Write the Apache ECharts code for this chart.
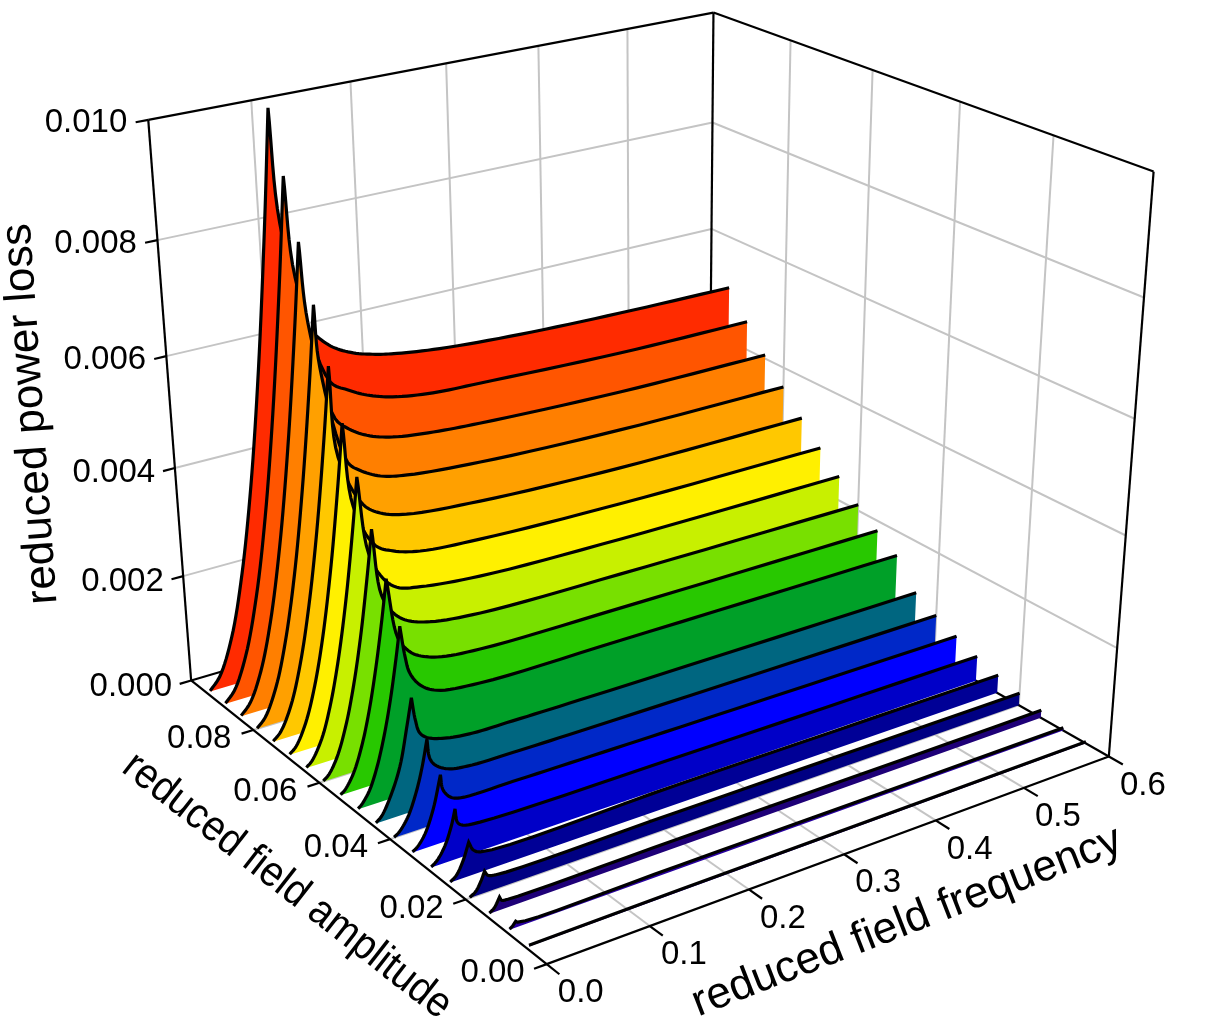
<!DOCTYPE html><html><head><meta charset="utf-8"><style>html,body{margin:0;background:#fff}#c{width:1224px;height:1023px}</style></head><body><div id="c"></div>
<script src="https://cdn.jsdelivr.net/npm/echarts@6/dist/echarts.min.js"></script>
<script>
// ---- data ----
const amplitudes=[0.095,0.09,0.085,0.08,0.075,0.07,0.065,0.06,0.055,0.05,0.045,0.04,0.035,0.03,0.025,0.02,0.015,0.01,0.005];
const ribbonColors=['#ff2b00','#ff5500','#ff7f00','#ffa000','#ffc800','#fff000','#c8f000','#78e000','#28c800','#00a028','#006680','#0028c8','#0000ff','#0000c8','#000096','#000082','#1e0078','#2800a0','#2800a0'];
const freq095=[.004,.015,.030,.045,.060,.075,.090,.100,.105,.128,.137,.152,.173,.196,.219,.265,.354,.469,.600];
const loss095=[.00001,.00023,.0009,.00203,.0036,.00563,.00811,.01001,.00806,.00615,.00595,.00571,.00552,.0054,.00532,.00522,.00512,.00506,.00503];
const freq090=[.004,.014,.028,.043,.057,.071,.085,.095,.101,.131,.148,.168,.195,.238,.289,.448,.600];
const loss090=[.00001,.0002,.00079,.00185,.00325,.00505,.00724,.00904,.00731,.00535,.00514,.00496,.00481,.0047,.00466,.00456,.00454];
const freq085=[.004,.014,.027,.040,.054,.068,.081,.090,.095,.117,.129,.149,.176,.219,.269,.427,.600];
const loss085=[.00001,.0002,.00073,.0016,.00292,.00463,.00657,.00811,.00671,.00495,.00472,.0045,.00435,.00425,.00419,.00409,.00407];
const freq080=[.004,.013,.026,.038,.051,.064,.077,.085,.088,.111,.123,.144,.172,.250,.406,.600];
const loss080=[.00001,.00017,.00068,.00145,.0026,.0041,.00593,.00723,.00615,.00438,.00418,.00398,.00387,.00375,.00365,.00363];
const freq075=[.004,.012,.024,.036,.048,.060,.072,.080,.085,.108,.125,.152,.230,.385,.600];
const loss075=[.00001,.00014,.00057,.00129,.0023,.00359,.00517,.00638,.00478,.00383,.0036,.00345,.00332,.00322,.00321];
const freq070=[.004,.011,.022,.033,.044,.056,.067,.074,.081,.101,.119,.147,.210,.364,.600];
const loss070=[.00001,.00012,.0005,.00112,.00198,.00321,.0046,.00561,.00412,.00334,.00315,.00301,.00292,.00284,.00282];
const freq065=[.004,.010,.021,.031,.041,.052,.062,.069,.077,.090,.104,.128,.190,.343,.600];
const loss065=[.00001,.0001,.00045,.00099,.00173,.00278,.00396,.0049,.00353,.00302,.00278,.00267,.00255,.00248,.00246];
const freq060=[.004,.010,.019,.029,.038,.048,.058,.064,.071,.082,.095,.119,.171,.322,.600];
const loss060=[.00001,.0001,.00037,.00087,.00149,.00237,.00347,.00422,.00302,.00265,.00245,.0023,.00219,.00214,.00211];
const freq055=[.004,.009,.018,.027,.035,.044,.053,.059,.068,.077,.086,.107,.151,.301,.600];
const loss055=[.00001,.00008,.00033,.00075,.00126,.002,.0029,.00359,.0025,.00224,.0021,.00195,.00186,.00183,.00181];
const freq050=[.004,.008,.016,.024,.032,.040,.048,.053,.057,.061,.071,.087,.131,.280,.600];
const loss050=[.00001,.00007,.00027,.00062,.0011,.00171,.00247,.00301,.00245,.00214,.00187,.00169,.00158,.00156,.00154];
const freq045=[.004,.010,.020,.030,.038,.044,.047,.051,.059,.078,.104,.145,.216,.600];
const loss045=[.00001,.0001,.00042,.00088,.00151,.00203,.00162,.00136,.00123,.00112,.00106,.00105,.00104,.00103];
const freq040=[.004,.009,.018,.027,.034,.040,.042,.047,.059,.079,.126,.195,.600];
const loss040=[.00001,.00007,.00028,.00066,.00108,.00156,.00121,.00106,.00092,.00085,.00083,.00082,.00081];
const freq035=[.004,.009,.017,.026,.034,.036,.043,.052,.106,.175,.282,.600];
const loss035=[.00001,.00007,.00026,.00066,.00121,.00093,.00076,.00069,.00067,.00066,.00065,.00063];
const freq030=[.004,.010,.018,.025,.029,.031,.036,.053,.260,.600];
const loss030=[.00001,.00009,.0003,.00062,.00089,.00064,.00056,.00051,.00048,.00047];
const freq025=[.004,.010,.017,.023,.027,.034,.238,.600];
const loss025=[.00001,.00009,.00031,.0006,.00044,.00036,.00035,.00034];
const freq020=[.004,.010,.015,.019,.022,.029,.217,.600];
const loss020=[.00001,.00008,.00022,.00038,.00029,.00025,.00024,.00023];
const freq015=[.004,.009,.014,.016,.022,.195,.600];
const loss015=[.00001,.00008,.00023,.00016,.00014,.00014,.00014];
const freq010=[.004,.007,.010,.012,.173,.600];
const loss010=[.00001,.00005,.00011,.00008,.00006,.00005];
const freq005=[.003,.152,.600];
const loss005=[.00002,.00003,.00003];
const ribbonFreqs=[freq095,freq090,freq085,freq080,freq075,freq070,freq065,freq060,freq055,freq050,freq045,freq040,freq035,freq030,freq025,freq020,freq015,freq010,freq005];
const ribbonLoss=[loss095,loss090,loss085,loss080,loss075,loss070,loss065,loss060,loss055,loss050,loss045,loss040,loss035,loss030,loss025,loss020,loss015,loss010,loss005];
const freqTicks=['0.0','0.1','0.2','0.3','0.4','0.5','0.6'];
const ampTicks=['0.00','0.02','0.04','0.06','0.08'];
const lossTicks=['0.000','0.002','0.004','0.006','0.008','0.010'];
const freqMax=0.6,ampMax=0.1,lossMax=0.01;

// ---- perspective camera: fitted least-squares from where the box corners sit ----
const cameraAnchors=[[0,0,0,547,966],[1,0,0,1110,755],[0,1,0,190,680],[1,1,0,708,530],[0,1,1,148,120],[1,1,1,714.5,12],[1,0,1,1153,172],[1,1,.8,712.5,122.5],[1,1,.6,711,229],[0,.8,0,255,729],[0,.6,0,320,782],[0,.4,0,390,840],[0,.2,0,466,900],[1/6,0,0,648,925]];
function fitCamera(){const A=[],b=[];for(const [u,v,w,x,y] of cameraAnchors){A.push([u,v,w,1,0,0,0,0,-x*u,-x*v,-x*w]);b.push(x);A.push([0,0,0,0,u,v,w,1,-y*u,-y*v,-y*w]);b.push(y);}
 const n=11,M=[];for(let i=0;i<n;i++){M.push(new Array(n+1).fill(0));for(let j=0;j<n;j++)for(let k=0;k<A.length;k++)M[i][j]+=A[k][i]*A[k][j];for(let k=0;k<A.length;k++)M[i][n]+=A[k][i]*b[k];}
 for(let i=0;i<n;i++){let p=i;for(let r=i+1;r<n;r++)if(Math.abs(M[r][i])>Math.abs(M[p][i]))p=r;[M[i],M[p]]=[M[p],M[i]];for(let r=0;r<n;r++)if(r!=i){const c=M[r][i]/M[i][i];for(let j=i;j<=n;j++)M[r][j]-=c*M[i][j];}}
 return M.map((r,i)=>r[n]/r[i]);}
const h=fitCamera();
function proj(u,v,w){const d=h[8]*u+h[9]*v+h[10]*w+1;return[(h[0]*u+h[1]*v+h[2]*w+h[3])/d,(h[4]*u+h[5]*v+h[6]*w+h[7])/d];}

// smooth a branch of screen points (centripetal Hermite); corners stay sharp at branch ends
function smoothBranch(P){const out=[P[0]];const n=P.length;if(n<3){return P.slice();}
 const dt=[];for(let i=0;i<n-1;i++)dt.push(Math.max(1e-3,Math.sqrt(Math.hypot(P[i+1][0]-P[i][0],P[i+1][1]-P[i][1]))));
 const m=[];for(let i=0;i<n;i++){if(i==0)m.push([(P[1][0]-P[0][0])/dt[0],(P[1][1]-P[0][1])/dt[0]]);else if(i==n-1)m.push([(P[i][0]-P[i-1][0])/dt[i-1],(P[i][1]-P[i-1][1])/dt[i-1]]);
  else{const a=dt[i-1],b=dt[i];m.push([0,1].map(k=>((P[i+1][k]-P[i][k])/b*a+(P[i][k]-P[i-1][k])/a*b)/(a+b)));}}
 for(let i=0;i<n-1;i++)for(let s=1;s<=8;s++){const t=s/8,t2=t*t,t3=t2*t,d=dt[i];
  out.push([0,1].map(k=>(2*t3-3*t2+1)*P[i][k]+(t3-2*t2+t)*d*m[i][k]+(-2*t3+3*t2)*P[i+1][k]+(t3-t2)*d*m[i+1][k]));}
 return out;}

const GRID='#c4c4c4',INK='#000';
function lineEl(a,b,api,stroke,width){const p=api.coord(a),q=api.coord(b);return{type:'line',shape:{x1:p[0],y1:p[1],x2:q[0],y2:q[1]},style:{stroke:stroke,lineWidth:width,lineCap:'butt'},silent:true};}
function textEl(t,pos,api,size,align,rot,sx){const p=api.coord(pos);return{type:'text',x:p[0],y:p[1],rotation:rot||0,scaleX:sx||1,style:{text:t,x:0,y:0,font:size+'px "Liberation Sans"',fill:INK,textAlign:align,textVerticalAlign:'middle'},silent:true};}

function renderFrame(params,api){const ch=[];
 const L=(a,b,c,w)=>ch.push(lineEl(proj(...a),proj(...b),api,c,w));
 // grey grid on walls and floor
 for(let k=1;k<freqTicks.length-1;k++){const u=k/(freqTicks.length-1);L([u,1,0],[u,1,1],GRID,2);L([u,0,0],[u,1,0],GRID,2);}
 for(let k=1;k<ampTicks.length;k++){const v=k*0.02/ampMax;L([1,v,0],[1,v,1],GRID,2);L([0,v,0],[1,v,0],GRID,2);}
 for(let k=1;k<lossTicks.length-1;k++){const w=k/(lossTicks.length-1);L([0,1,w],[1,1,w],GRID,2);L([1,0,w],[1,1,w],GRID,2);}
 // black box
 const B=2.2;
 L([0,1,0],[0,1,1],INK,B);L([1,1,0],[1,1,1],INK,B);L([1,0,0],[1,0,1],INK,B);
 L([0,1,1],[1,1,1],INK,B);L([1,0,1],[1,1,1],INK,B);
 L([0,1,0],[1,1,0],INK,B);L([1,0,0],[1,1,0],INK,B);
 L([0,0,0],[0,1,0],INK,B);L([0,0,0],[1,0,0],INK,B);
 // ticks and tick labels
 const tu=0.02,tv=0.03;
 lossTicks.forEach((t,k)=>{const w=k/(lossTicks.length-1);L([-tu,1,w],[0,1,w],INK,B);const p=proj(0,1,w);ch.push(textEl(t,[p[0]-21+(1-w)*2,p[1]+3+(1-w)*3],api,33,'right'));});
 ampTicks.forEach((t,k)=>{const v=k*0.02/ampMax;L([-tu,v,0],[0,v,0],INK,B);const p=proj(0,v,0);ch.push(textEl(t,[p[0]-22,p[1]+9],api,33,'right'));});
 freqTicks.forEach((t,k)=>{const u=k/(freqTicks.length-1);L([u,-tv,0],[u,0,0],INK,B);const p=proj(u,0,0);ch.push(textEl(t,[p[0]+34,p[1]+29],api,33,'center'));});
 // axis titles
 ch.push(textEl('reduced power loss',[31,414],api,44,'center',Math.PI/180*94));
 ch.push(textEl('reduced field amplitude',[287,886],api,43,'center',-Math.PI/180*38,0.91));
 ch.push(textEl('reduced field frequency',[907,922],api,44,'center',Math.PI/180*21.3));
 return{type:'group',children:ch};}

function makeRibbon(i){const fs=ribbonFreqs[i],ps=ribbonLoss[i],v=amplitudes[i]/ampMax;
 return function(params,api){ if(params.dataIndex!==0)return null;
  const pts=fs.map((f,j)=>api.coord(proj(f/freqMax,v,ps[j]/lossMax)));
  let peak=0;ps.forEach((p,j)=>{if(p>ps[peak])peak=j;});
  const left=smoothBranch(pts.slice(0,peak+1)),right=smoothBranch(pts.slice(peak));
  const top=left.concat(right.slice(1));
  const a=api.coord(proj(fs[fs.length-1]/freqMax,v,0)),b=api.coord(proj(fs[0]/freqMax,v,0));
  return{type:'group',children:[
   {type:'polygon',shape:{points:top.concat([a,b])},style:{fill:ribbonColors[i],stroke:null},silent:true},
   {type:'polyline',shape:{points:top},style:{fill:null,stroke:INK,lineWidth:3.2,lineJoin:'miter',miterLimit:3,lineCap:'butt'},silent:true}
  ]};};}

const series=[{name:'frame',type:'custom',coordinateSystem:'cartesian2d',z:1,clip:false,silent:true,data:[[0,0]],renderItem:renderFrame,animation:false}];
amplitudes.forEach((a,i)=>series.push({name:'amplitude '+a,type:'custom',coordinateSystem:'cartesian2d',z:2+i,clip:false,silent:true,
 data:ribbonFreqs[i].map((f,j)=>[f,ribbonLoss[i][j]]),renderItem:makeRibbon(i),animation:false}));

const chart=echarts.init(document.getElementById('c'),null,{renderer:'canvas',width:1224,height:1023});
chart.setOption({animation:false,backgroundColor:'#fff',
 grid:{left:0,right:0,top:0,bottom:0},
 xAxis:{type:'value',min:0,max:1224,show:false},
 yAxis:{type:'value',min:0,max:1023,inverse:true,show:false},
 tooltip:{show:false},series:series});
</script></body></html>
